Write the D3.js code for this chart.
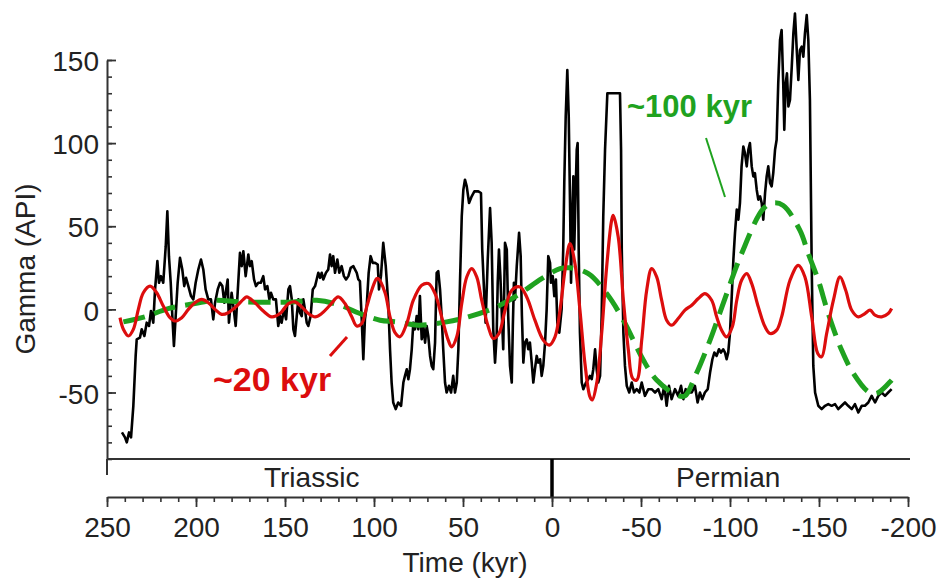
<!DOCTYPE html>
<html>
<head>
<meta charset="utf-8">
<script src="https://cdn.jsdelivr.net/npm/d3@7"></script>
<style>
  body { margin: 0; background: #fff; }
  svg { display: block; }
  text { font-family: "Liberation Sans", Arial, Helvetica, sans-serif; }
</style>
</head>
<body>
<svg id="chart" width="940" height="580"></svg>
<script>
// Gamma-ray log across the Permian–Triassic boundary: [time (kyr), gamma (API)]
const gammaRaw = [
  [241.6,-74],[239.9,-77],[238.9,-80],[237.6,-74],[236.5,-77],[235.2,-58],[233.9,-28],[233.3,-18],[231.5,-17],[230.5,-12],
  [229.0,-16],[227.7,-8],[226.4,-10],[225.3,-1],[224.0,-8],[223.0,12],[221.7,29],[220.8,16],[219.7,20],[218.4,16],
  [217.0,38],[216.1,59],[215.2,32],[214.2,16],[213.3,-4],[212.4,-22],[211.4,-4],[210.3,16],[209.0,31],[207.7,24],
  [206.6,14],[205.6,19],[204.3,14],[202.8,8],[201.5,6],[200.2,16],[198.7,24],[197.2,30],[195.9,24],[194.6,12],
  [193.1,6],[191.6,6],[190.3,-6],[189.3,4],[187.8,12],[186.5,16],[185.2,14],[184.1,4],[183.3,10],[182.2,18],
  [181.5,-8],[180.0,10],[179.0,2],[177.7,-10],[176.6,10],[175.3,34],[174.3,26],[173.4,35],[172.1,20],[170.6,33],
  [169.7,26],[168.7,29],[167.4,18],[166.3,14],[165.0,16],[163.6,16],[162.2,20],[161.2,12],[159.9,14],[158.8,6],
  [157.9,10],[156.6,6],[155.1,6],[153.8,-10],[152.8,-4],[151.9,-8],[150.6,0],[149.4,-6],[148.1,12],[147.2,14],
  [146.2,6],[145.3,-12],[144.4,-16],[143.4,-4],[142.5,6],[141.6,-2],[140.6,-4],[139.7,6],[138.8,0],[137.8,-8],
  [136.9,-10],[135.6,-4],[134.4,12],[133.1,14],[132.2,18],[131.3,22],[130.3,19],[129.4,22],[128.5,18],[127.0,22],
  [125.7,24],[124.7,33],[123.8,26],[122.9,32],[121.9,22],[120.6,30],[119.5,22],[118.2,26],[116.9,20],[115.7,18],
  [114.4,20],[113.1,25],[111.6,26],[110.7,24],[109.7,22],[108.8,18],[107.9,17],[106.9,-6],[106.0,-30],[105.1,-6],
  [104.1,2],[103.0,22],[101.9,32],[100.7,28],[99.4,28],[97.9,27],[97.2,12],[96.1,20],[94.8,40],[93.4,26],
  [92.0,4],[91.0,-24],[90.1,-44],[89.2,-56],[87.8,-60],[86.4,-56],[84.8,-58],[83.5,-44],[82.6,-40],[81.6,-36],
  [80.7,-42],[79.8,-36],[78.8,-24],[77.9,-8],[77.0,-12],[76.0,-4],[75.1,-12],[74.2,8],[73.2,-18],[72.3,-10],
  [71.3,-20],[70.4,-10],[69.5,-16],[68.5,-28],[67.6,-34],[66.7,-36],[65.7,-20],[64.8,22],[63.9,23],[62.9,12],
  [62.0,-4],[61.1,-24],[60.1,-44],[59.2,-50],[57.9,-46],[56.7,-50],[55.5,-40],[54.5,-50],[53.5,-44],[52.6,-24],
  [51.7,16],[50.7,56],[49.8,72],[48.9,78],[47.9,74],[46.6,64],[45.1,68],[43.6,71],[41.4,71],[39.9,70],
  [39.2,36],[38.2,12],[37.3,-8],[36.1,30],[34.8,61],[33.9,40],[33.0,-12],[32.0,-32],[31.1,-16],[30.5,16],
  [29.8,36],[29.0,20],[28.3,0],[27.4,-24],[26.4,40],[25.4,36],[24.6,-4],[23.6,-34],[22.6,-44],[22.0,-10],
  [21.4,16],[20.8,6],[19.8,26],[18.5,46],[17.6,32],[16.9,-4],[16.1,-32],[15.2,-20],[14.2,-18],[13.3,-24],
  [12.4,-20],[11.4,-32],[10.5,-44],[9.6,-36],[8.6,-28],[7.7,-32],[6.7,-30],[5.8,-40],[4.9,-34],[3.9,-20],
  [3.0,0],[2.1,32],[1.1,28],[0.6,16],[-0.4,20],[-1.3,8],[-2.2,18],[-3.0,-8],[-4.1,-14],[-5.4,0],
  [-6.3,36],[-6.9,76],[-7.7,116],[-8.6,144],[-9.4,116],[-10.1,66],[-10.7,16],[-11.4,56],[-12.0,80],[-12.5,36],
  [-13.3,72],[-13.9,96],[-14.4,100],[-15.0,36],[-15.7,-14],[-16.7,-44],[-17.6,-48],[-19.1,-44],[-20.4,-42],[-21.3,-40],
  [-22.3,-42],[-23.2,-36],[-24.2,-24],[-25.1,-36],[-26.0,-44],[-27.0,-40],[-27.9,-4],[-28.8,56],[-29.8,96],[-31.1,130],
  [-38.2,130],[-38.8,96],[-39.2,36],[-40.1,-14],[-41.0,-34],[-42.0,-46],[-43.4,-50],[-44.8,-44],[-46.1,-50],[-47.6,-48],
  [-49.1,-50],[-50.4,-44],[-52.2,-52],[-54.1,-48],[-56.0,-48],[-57.9,-50],[-59.7,-48],[-61.6,-54],[-63.1,-46],[-64.4,-58],
  [-65.7,-46],[-67.2,-54],[-69.1,-48],[-70.9,-52],[-72.5,-46],[-73.8,-54],[-75.1,-48],[-76.6,-50],[-78.5,-50],[-80.3,-46],
  [-81.8,-56],[-83.1,-50],[-84.4,-54],[-85.9,-50],[-87.5,-48],[-88.8,-38],[-90.1,-30],[-91.2,-26],[-92.5,-28],[-93.8,-24],
  [-94.9,-26],[-96.2,-24],[-97.2,-26],[-98.1,-30],[-99.0,-26],[-100.0,-14],[-100.9,6],[-101.9,30],[-102.8,46],[-103.8,60],
  [-104.7,54],[-105.6,64],[-106.5,86],[-107.5,98],[-108.4,94],[-109.4,86],[-110.3,96],[-111.2,100],[-112.2,86],[-113.1,80],
  [-114.0,82],[-115.0,72],[-115.9,66],[-116.9,68],[-117.8,64],[-118.7,54],[-119.7,70],[-120.6,80],[-121.5,86],[-122.5,76],
  [-123.4,74],[-124.3,82],[-125.3,96],[-126.2,102],[-127.1,136],[-128.1,162],[-129.0,168],[-129.9,136],[-130.5,108],[-131.3,136],
  [-132.0,142],[-132.8,122],[-133.7,126],[-134.7,146],[-135.6,166],[-136.5,178],[-137.5,156],[-138.4,138],[-139.3,156],[-140.3,158],
  [-141.2,152],[-142.1,166],[-143.1,177],[-144.0,162],[-144.9,126],[-145.9,26],[-146.8,-34],[-147.8,-50],[-149.6,-58],[-151.5,-60],
  [-153.4,-58],[-155.2,-57],[-157.1,-58],[-159.0,-57],[-160.8,-60],[-162.7,-58],[-164.6,-56],[-166.4,-58],[-168.4,-60],[-170.2,-57],
  [-172.1,-62],[-174.0,-58],[-175.8,-58],[-177.7,-56],[-179.6,-52],[-180.5,-54],[-181.5,-56],[-183.3,-52],[-185.2,-50],[-187.1,-52],
  [-188.9,-50],[-190.8,-48]
];

// ~20 kyr (precession) band-pass filter output
const filter20kyr = [
  [242.7,-5],[240.8,-12],[238.0,-16],[235.2,-12],[232.4,0],[229.6,10],[225.8,14],[222.1,10],[218.4,2],[214.6,-5],
  [211.8,-7],[208.0,-5],[204.3,0],[200.6,4],[196.8,6],[193.1,4],[189.3,0],[185.6,-3],[181.9,-2],[177.1,2],
  [173.4,6],[171.5,7.5],[166.9,4],[162.2,-1],[157.5,-4.5],[152.8,-2.5],[148.1,3.5],[144.4,4.5],[140.6,1.5],[136.9,-2.5],
  [133.1,-4.5],[129.4,-2.5],[124.7,2.5],[120.1,7.5],[116.3,3.5],[112.5,-4.5],[109.7,-10],[106.9,-8.5],[104.1,1.5],[101.3,11.5],
  [98.5,18.5],[97.6,18.5],[93.8,10],[91.0,-4.5],[88.2,-14],[85.4,-16.5],[81.6,-8.5],[77.9,5.5],[73.2,14.5],[69.5,15.5],
  [65.7,9.5],[62.0,-4.5],[58.3,-18.5],[56.4,-22.5],[53.5,-16.5],[50.7,3.5],[47.9,19.5],[45.1,24.5],[42.3,19.5],[39.5,5.5],
  [35.8,-10.5],[33.0,-17.5],[29.8,-14.5],[26.4,-0.5],[22.6,11.5],[18.0,13.5],[14.2,7.5],[9.6,-6.5],[4.9,-18.5],[1.5,-21.5],
  [-1.7,-16.5],[-4.5,-0.5],[-7.3,23.5],[-10.1,39.5],[-12.9,27.5],[-15.7,-0.5],[-18.5,-32.5],[-21.3,-52.5],[-22.6,-54.5],[-25.1,-44.5],
  [-27.9,-14.5],[-30.7,25.5],[-33.5,53.5],[-34.4,56.5],[-37.2,43.5],[-40.1,5.5],[-42.9,-24.5],[-45.3,-41.5],[-47.6,-42.5],[-50.4,-18.5],
  [-53.2,11.5],[-56.0,24.5],[-58.8,19.5],[-61.6,5.5],[-64.4,-6.5],[-67.2,-9.5],[-70.9,-5.5],[-74.7,-0.5],[-78.5,2.5],[-82.2,6.5],
  [-85.9,9.5],[-89.7,5.5],[-92.5,-4.5],[-95.3,-12.5],[-98.1,-16.5],[-101.3,-10.5],[-103.8,5.5],[-106.5,17.5],[-109.4,21.5],[-112.2,15.5],
  [-115.9,1.5],[-119.7,-10.5],[-122.5,-14.5],[-126.2,-12.5],[-129.0,-4.5],[-133.7,17.5],[-138.4,26.5],[-142.1,19.5],[-145.9,-4.5],[-149.3,-26.5],
  [-151.5,-28.5],[-154.3,-14.5],[-158.1,5.5],[-161.8,19.5],[-165.0,11.5],[-168.4,-0.5],[-172.1,-4.5],[-175.8,-2.5],[-178.7,-0.5],[-181.5,-3.5],
  [-185.2,-4.5],[-188.9,-2.5],[-190.8,0.5]
];

// ~100 kyr (short eccentricity) band-pass filter output
const filter100kyr = [
  [240.8,-7.5],[228.7,-4.5],[215.6,0.5],[200.6,3.5],[189.3,5.5],[174.3,4.5],[145.3,4.5],[132.2,5.5],[119.1,2.5],[107.9,-2.5],
  [96.6,-6.5],[87.2,-7.5],[75.1,-9.5],[59.2,-7.5],[47.0,-4.5],[31.1,1.5],[18.0,9.5],[5.8,18.5],[-4.5,24.5],[-10.1,25],
  [-20.4,21.5],[-30.7,9.5],[-40.1,-6.5],[-51.3,-30.5],[-58.8,-42.5],[-70.0,-51.5],[-74.7,-52],[-80.3,-40.5],[-88.8,-18.5],[-95.5,1.5],
  [-106.5,33.5],[-118.7,60.5],[-124.2,64],[-129.9,62.5],[-139.3,47.5],[-144.0,33.5],[-149.6,17.5],[-155.2,-2.5],[-162.7,-24.5],[-169.3,-38.5],
  [-177.7,-49.5],[-182.4,-50.5],[-190.8,-42.5]
];

const timeTicks = [250, 200, 150, 100, 50, 0, -50, -100, -150, -200];
const gammaTicks = [-50, 0, 50, 100, 150];
const periods = [
  { name: "Triassic", start: 250, end: 0 },
  { name: "Permian", start: 0, end: -200 }
];

const svg = d3.select("#chart");
const axisColor = "#333";
const textColor = "#222";
const red = "#dc0d0d";
const green = "#1fa21f";
// plain hyphen for negative tick labels
const plainNumber = d => String(d);

// Scales: time runs backwards from left to right
const x = d3.scaleLinear().domain([250, -200]).range([107, 908]);
const y = d3.scaleLinear().domain([-90, 150]).range([459, 60]);

const bandTop = y(-90);
const bandBottom = 497;

// Y axis, ticks pointing inward
const yMinor = svg.append("g").attr("transform", `translate(${x(250)},0)`)
  .call(d3.axisLeft(y).tickValues(d3.range(-90, 151, 10)).tickSizeInner(-5).tickSizeOuter(0).tickFormat(""));
yMinor.select(".domain").attr("stroke", axisColor).attr("stroke-width", 2);
yMinor.selectAll(".tick line").attr("stroke", axisColor).attr("stroke-width", 1.6);

const yMajor = svg.append("g").attr("transform", `translate(${x(250)},0)`)
  .call(d3.axisLeft(y).tickValues(gammaTicks).tickSizeInner(-9).tickSizeOuter(0).tickPadding(8).tickFormat(plainNumber));
yMajor.select(".domain").remove();
yMajor.selectAll(".tick line").attr("stroke", axisColor).attr("stroke-width", 1.8);
yMajor.selectAll(".tick text").attr("font-size", 28).attr("fill", textColor).attr("dy", "0.38em");

// Geological period band below the plot
svg.append("line")
  .attr("x1", x(250)).attr("x2", x(-200) + 2)
  .attr("y1", bandTop).attr("y2", bandTop)
  .attr("stroke", axisColor).attr("stroke-width", 2);
svg.append("line")
  .attr("x1", x(250)).attr("x2", x(250))
  .attr("y1", bandTop).attr("y2", bandTop + 16)
  .attr("stroke", axisColor).attr("stroke-width", 2);
svg.append("line")
  .attr("x1", x(0)).attr("x2", x(0))
  .attr("y1", bandTop).attr("y2", bandBottom)
  .attr("stroke", "#000").attr("stroke-width", 3.5);

const periodLabelAt = { Triassic: 135, Permian: -99 };
svg.selectAll(".period").data(periods).join("text")
  .attr("class", "period")
  .attr("x", d => x(periodLabelAt[d.name]))
  .attr("y", 487)
  .attr("text-anchor", "middle")
  .attr("font-size", 28)
  .attr("fill", textColor)
  .text(d => d.name);

// Time axis
const xMinor = svg.append("g").attr("transform", `translate(0,${bandBottom})`)
  .call(d3.axisBottom(x).tickValues(d3.range(250, -201, -10)).tickSizeInner(5).tickSizeOuter(0).tickFormat(""));
xMinor.select(".domain").attr("stroke", axisColor).attr("stroke-width", 2);
xMinor.selectAll(".tick line").attr("stroke", axisColor).attr("stroke-width", 1.6);

const xMajor = svg.append("g").attr("transform", `translate(0,${bandBottom})`)
  .call(d3.axisBottom(x).tickValues(timeTicks).tickSizeInner(10).tickSizeOuter(0).tickPadding(10).tickFormat(plainNumber));
xMajor.select(".domain").remove();
xMajor.selectAll(".tick line").attr("stroke", axisColor).attr("stroke-width", 1.8);
xMajor.selectAll(".tick text").attr("font-size", 28).attr("fill", textColor);

// Axis titles
svg.append("text")
  .attr("x", 465).attr("y", 572)
  .attr("text-anchor", "middle")
  .attr("font-size", 28).attr("fill", textColor)
  .text("Time (kyr)");
svg.append("text")
  .attr("transform", "translate(35,269) rotate(-90)")
  .attr("text-anchor", "middle")
  .attr("font-size", 28).attr("fill", textColor)
  .text("Gamma (API)");

// Series
const line = d3.line().x(d => x(d[0])).y(d => y(d[1]));
const smooth = d3.line().x(d => x(d[0])).y(d => y(d[1])).curve(d3.curveCatmullRom.alpha(0.5));

svg.append("path").datum(gammaRaw)
  .attr("d", line)
  .attr("fill", "none").attr("stroke", "#000")
  .attr("stroke-width", 2.6).attr("stroke-linejoin", "round");

svg.append("path").datum(filter100kyr)
  .attr("d", smooth)
  .attr("fill", "none").attr("stroke", green)
  .attr("stroke-width", 5).attr("stroke-dasharray", "22,10");

svg.append("path").datum(filter20kyr)
  .attr("d", smooth)
  .attr("fill", "none").attr("stroke", red)
  .attr("stroke-width", 3.2).attr("stroke-linejoin", "round");

// Period annotations
svg.append("line")
  .attr("x1", 330).attr("y1", 356).attr("x2", 347).attr("y2", 337)
  .attr("stroke", red).attr("stroke-width", 3);
svg.append("text")
  .attr("x", 213).attr("y", 391)
  .attr("font-size", 34).attr("font-weight", "bold").attr("fill", red)
  .text("~20 kyr");

svg.append("line")
  .attr("x1", 706).attr("y1", 138).attr("x2", 725).attr("y2", 197)
  .attr("stroke", green).attr("stroke-width", 2);
svg.append("text")
  .attr("x", 627).attr("y", 117)
  .attr("font-size", 31).attr("font-weight", "bold").attr("fill", green)
  .text("~100 kyr");
</script>
</body>
</html>
